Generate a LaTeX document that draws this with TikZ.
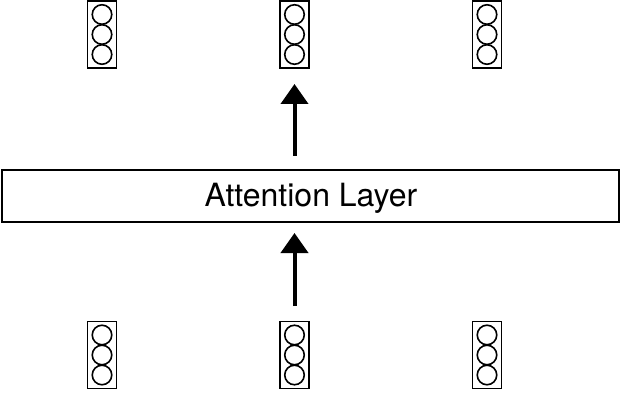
\documentclass[tikz,border=0pt]{standalone}
\usepackage{fontspec}
\setmainfont{TeX Gyre Heros}
\usetikzlibrary{arrows.meta}
\begin{document}
\begin{tikzpicture}[x=1pt,y=-1pt,
  vecbox/.style={draw,line width=1.5pt,minimum width=29pt,minimum height=67pt,inner sep=0pt},
  dot/.style={draw,line width=1.6pt,circle,minimum size=19.5pt,inner sep=0pt},
  layer/.style={draw,line width=1.4pt,minimum width=617pt,minimum height=52pt,inner sep=0pt,font=\fontsize{32}{38}\selectfont},
  flow/.style={line width=4pt,-{Triangle[width=27pt,length=20pt]}}]
\useasboundingbox (0,0) rectangle (621,393);
\foreach \n/\x in {a/102,b/294.5,c/487}{
  \node[vecbox] (t\n) at (\x,34.5) {};
  \node[dot] (t\n1) at (\x,14.5) {};
  \node[dot] (t\n2) at (\x,34.5) {};
  \node[dot] (t\n3) at (\x,54.5) {};
  \node[vecbox] (b\n) at (\x,355) {};
  \node[dot] (b\n1) at (\x,335) {};
  \node[dot] (b\n2) at (\x,355) {};
  \node[dot] (b\n3) at (\x,375) {};
}
\node[layer] (att) at (310.5,196) {};
\node[font=\fontsize{32}{38}\selectfont,anchor=base] (lbl) at (311,206) {Attention Layer};
\coordinate (s1) at (294.5,306);
\coordinate (e1) at (294.5,233);
\coordinate (s2) at (294.5,156);
\coordinate (e2) at (294.5,84);
\draw[flow] (s1) -- (e1);
\draw[flow] (s2) -- (e2);
\end{tikzpicture}
\end{document}
